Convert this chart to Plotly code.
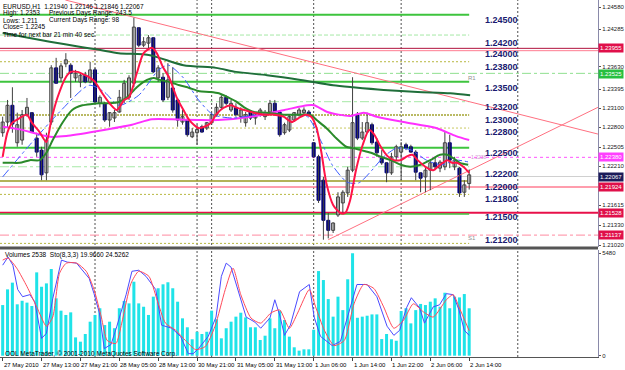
import plotly.graph_objects as go

# ---------------- data ----------------
tick_labels = ["27 May 2010", "27 May 13:00", "27 May 21:00", "28 May 05:00", "28 May 13:00",
               "30 May 21:00", "31 May 05:00", "31 May 13:00", "1 Jun 06:00", "1 Jun 14:00",
               "1 Jun 22:00", "2 Jun 06:00", "2 Jun 14:00"]
tick_bars = [0, 8, 16, 24, 32, 40, 48, 56, 64, 72, 80, 88, 96]
day_sep_bars = [19, 40, 43, 64, 82, 106]

opens = [1.2270, 1.2286, 1.2311, 1.2255, 1.2259, 1.2297, 1.2300, 1.2262, 1.2244, 1.2210,
         1.2286, 1.2367, 1.2352, 1.2373, 1.2371, 1.2352, 1.2346, 1.2356, 1.2346, 1.2364,
         1.2314, 1.2314, 1.2289, 1.2292, 1.2301, 1.2319, 1.2323, 1.2344, 1.2427, 1.2401,
         1.2404, 1.2412, 1.2352, 1.2353, 1.2323, 1.2337, 1.2319, 1.2286, 1.2289, 1.2264,
         1.2270, 1.2279, 1.2277, 1.2285, 1.2297, 1.2308, 1.2323, 1.2304, 1.2308, 1.2294,
         1.2285, 1.2301, 1.2292, 1.2297, 1.2294, 1.2301, 1.2314, 1.2301, 1.2270, 1.2274,
         1.2289, 1.2297, 1.2300, 1.2301, 1.2255, 1.2234, 1.2199, 1.2139, 1.2124, 1.2147,
         1.2165, 1.2180, 1.2214, 1.2297, 1.2262, 1.2271, 1.2282, 1.2256, 1.2232, 1.2225,
         1.2210, 1.2234, 1.2241, 1.2252, 1.2249, 1.2241, 1.2210, 1.2204, 1.2214, 1.2225,
         1.2217, 1.2219, 1.2255, 1.2219, 1.2217, 1.2181, 1.2194]
highs = [1.2294, 1.2319, 1.2338, 1.2300, 1.2304, 1.2322, 1.2301, 1.2270, 1.2249, 1.2270,
         1.2371, 1.2382, 1.2374, 1.2389, 1.2374, 1.2364, 1.2359, 1.2361, 1.2376, 1.2367,
         1.2326, 1.2316, 1.2301, 1.2304, 1.2334, 1.2349, 1.2356, 1.2442, 1.2428, 1.2413,
         1.2416, 1.2413, 1.2371, 1.2359, 1.2374, 1.2368, 1.2322, 1.2304, 1.2294, 1.2277,
         1.2282, 1.2282, 1.2286, 1.2300, 1.2314, 1.2326, 1.2326, 1.2319, 1.2314, 1.2308,
         1.2301, 1.2304, 1.2301, 1.2307, 1.2304, 1.2319, 1.2319, 1.2304, 1.2285, 1.2297,
         1.2301, 1.2307, 1.2308, 1.2304, 1.2256, 1.2237, 1.2204, 1.2150, 1.2136, 1.2181,
         1.2184, 1.2219, 1.2353, 1.2301, 1.2286, 1.2300, 1.2285, 1.2262, 1.2244, 1.2226,
         1.2240, 1.2252, 1.2256, 1.2255, 1.2252, 1.2244, 1.2211, 1.2219, 1.2229, 1.2234,
         1.2229, 1.2271, 1.2267, 1.2234, 1.2219, 1.2199, 1.2215]
lows = [1.2264, 1.2277, 1.2270, 1.2249, 1.2252, 1.2294, 1.2270, 1.2234, 1.2199, 1.2199,
        1.2282, 1.2344, 1.2346, 1.2368, 1.2322, 1.2346, 1.2338, 1.2344, 1.2344, 1.2314,
        1.2308, 1.2286, 1.2279, 1.2286, 1.2300, 1.2314, 1.2319, 1.2338, 1.2398, 1.2398,
        1.2394, 1.2359, 1.2346, 1.2316, 1.2319, 1.2300, 1.2279, 1.2282, 1.2264, 1.2262,
        1.2252, 1.2270, 1.2274, 1.2282, 1.2294, 1.2304, 1.2311, 1.2301, 1.2294, 1.2285,
        1.2279, 1.2289, 1.2282, 1.2294, 1.2289, 1.2297, 1.2300, 1.2264, 1.2267, 1.2271,
        1.2286, 1.2294, 1.2297, 1.2294, 1.2232, 1.2165, 1.2110, 1.2112, 1.2120, 1.2144,
        1.2150, 1.2174, 1.2211, 1.2259, 1.2259, 1.2270, 1.2252, 1.2234, 1.2222, 1.2196,
        1.2207, 1.2229, 1.2199, 1.2244, 1.2240, 1.2199, 1.2181, 1.2181, 1.2184, 1.2214,
        1.2211, 1.2214, 1.2217, 1.2214, 1.2174, 1.2174, 1.2185]
closes = [1.2286, 1.2311, 1.2283, 1.2282, 1.2297, 1.2308, 1.2271, 1.2241, 1.2207, 1.2259,
          1.2367, 1.2344, 1.2370, 1.2379, 1.2359, 1.2359, 1.2356, 1.2346, 1.2364, 1.2316,
          1.2323, 1.2289, 1.2300, 1.2300, 1.2323, 1.2344, 1.2352, 1.2428, 1.2401, 1.2406,
          1.2412, 1.2361, 1.2367, 1.2319, 1.2349, 1.2304, 1.2289, 1.2294, 1.2267, 1.2271,
          1.2275, 1.2271, 1.2285, 1.2297, 1.2308, 1.2323, 1.2314, 1.2314, 1.2297, 1.2304,
          1.2297, 1.2292, 1.2300, 1.2304, 1.2300, 1.2314, 1.2301, 1.2267, 1.2282, 1.2294,
          1.2300, 1.2304, 1.2304, 1.2297, 1.2234, 1.2169, 1.2139, 1.2124, 1.2135, 1.2174,
          1.2181, 1.2214, 1.2285, 1.2262, 1.2271, 1.2285, 1.2255, 1.2240, 1.2225, 1.2210,
          1.2234, 1.2249, 1.2249, 1.2247, 1.2241, 1.2211, 1.2202, 1.2214, 1.2225, 1.2219,
          1.2226, 1.2255, 1.2229, 1.2229, 1.2180, 1.2192, 1.2207]

volumes = [2710, 3550, 3910, 2750, 2940, 2840, 2660, 4460, 3690, 3870,
           4640, 3070, 2410, 2180, 2320, 980, 750, 1160, 1820, 2180,
           2540, 1640, 1820, 1470, 2540, 2930, 2800, 3960, 2800, 2620,
           2180, 3160, 3610, 3820, 3930, 3610, 2890, 2000, 1520, 880,
           1280, 1160, 1280, 2410, 1950, 930, 1470, 1820, 2090, 2300,
           2050, 1520, 1520, 840, 1070, 2000, 1470, 2410, 1910, 1020,
           450, 270, 340, 340, 1390, 4530, 4050, 3030, 2090, 3160,
           2440, 4090, 5480, 2030, 2090, 2140, 2210, 2210, 890, 1160,
           880, 800, 2390, 2540, 1730, 2440, 2770, 2710, 2890, 3070,
           2620, 3370, 2540, 3160, 3120, 3300, 2538]

# moving averages (bar index, price)
ma_red_x = [0, 1, 2, 3.5, 5, 6, 7.6, 9, 10, 11.3, 13, 14, 15.4, 17, 18, 19, 20.5, 22, 23.5, 25,
            26, 27.6, 29, 30.7, 31.7, 33, 34.3, 35.8, 37.2, 38.4, 40.3, 41.5, 42.9, 43.9, 45.4,
            47, 48, 49.7, 51.7, 53.7, 55.8, 57.8, 59.5, 60.9, 62.3, 63.5, 64.6, 65.6, 66.6, 68,
            69.5, 70.5, 71.5, 72.7, 74.1, 75.4, 76.4, 77.8, 79.2, 80.5, 81.9, 83.3, 84.3, 85.4,
            87, 88.6, 90, 91.5, 92.5, 93.5, 94.8, 96]
ma_red_y = [1.2234, 1.2271, 1.2285, 1.2292, 1.2297, 1.2285, 1.2271, 1.2256, 1.2289, 1.2323,
            1.2353, 1.2361, 1.2361, 1.2356, 1.2352, 1.2346, 1.2329, 1.2314, 1.2304, 1.2319,
            1.2323, 1.2359, 1.2389, 1.2397, 1.2389, 1.2368, 1.2352, 1.2323, 1.2304, 1.2289,
            1.2277, 1.2279, 1.2285, 1.2297, 1.2307, 1.2311, 1.2308, 1.2304, 1.2300, 1.2297,
            1.2297, 1.2294, 1.2286, 1.2292, 1.2297, 1.2294, 1.2277, 1.2240, 1.2195, 1.2162,
            1.2150, 1.2150, 1.2169, 1.2214, 1.2252, 1.2274, 1.2268, 1.2249, 1.2235, 1.2229,
            1.2229, 1.2235, 1.2237, 1.2229, 1.2219, 1.2214, 1.2222, 1.2229, 1.2225, 1.2225,
            1.2219, 1.2210]

ma_green_x = [0, 1.5, 3.5, 5.6, 7.6, 9, 10.3, 12.3, 14.3, 16.4, 18.4, 19.9, 21.9, 23.9, 25.6,
              27.6, 29.7, 31.1, 32.3, 34.3, 36.4, 38.4, 40.5, 42.5, 44.5, 46.6, 48, 49.7, 51.7,
              54.3, 57.8, 61.3, 63.3, 64.6, 66.6, 68.6, 70.7, 72.1, 73.7, 75.8, 77.8, 79.9,
              81.9, 83.9, 86, 88, 90, 91.5, 92.7, 94.1, 95.8]
ma_green_y = [1.2225, 1.2225, 1.2225, 1.2229, 1.2229, 1.2240, 1.2259, 1.2285, 1.2304, 1.2311,
              1.2313, 1.2314, 1.2314, 1.2316, 1.2323, 1.2338, 1.2349, 1.2352, 1.2349, 1.2346,
              1.2341, 1.2337, 1.2332, 1.2331, 1.2329, 1.2322, 1.2317, 1.2308, 1.2301, 1.2300,
              1.2297, 1.2297, 1.2297, 1.2289, 1.2277, 1.2262, 1.2249, 1.2247, 1.2244, 1.2240,
              1.2234, 1.2229, 1.2222, 1.2219, 1.2222, 1.2229, 1.2237, 1.2237, 1.2232, 1.2225,
              1.2222]

ma_magenta_x = [0, 3.5, 9.7, 13.1, 19.9, 26.6, 30.7, 34.8, 40.3, 44.3, 51.1, 58, 62.7, 64.1,
                66.8, 71.5, 74.3, 77, 82.5, 89.2, 93.3, 96]
ma_magenta_y = [1.2279, 1.2275, 1.2264, 1.2265, 1.2273, 1.2282, 1.2290, 1.2290, 1.2289, 1.2289,
                1.2294, 1.2304, 1.2311, 1.2311, 1.2301, 1.2295, 1.2300, 1.2294, 1.2286, 1.2277,
                1.2265, 1.2259]

ma_slow_x = [0, 9.7, 16.4, 19.9, 23.9, 30.3, 37.2, 43.9, 48, 54.4, 61.3, 68, 72.1, 78.4, 85.4,
             92.1, 96.2]
ma_slow_y = [1.2419, 1.2406, 1.2398, 1.2394, 1.2389, 1.2386, 1.2371, 1.2367, 1.2361, 1.2356,
             1.2349, 1.2341, 1.2338, 1.2334, 1.2331, 1.2329, 1.2326]

ma_blue_x = [0, 5.6, 11.7, 17.8, 20.9, 23.9, 28, 32.1, 34.1, 37.2, 40.3, 43.3, 47.4, 52.5, 58.6,
             62.7, 65.4, 67.8, 70.9, 73.3, 76, 78.4, 81.1, 84.1, 87.2, 90.3, 93.3, 96]
ma_blue_y = [1.2204, 1.2252, 1.2301, 1.2341, 1.2331, 1.2311, 1.2326, 1.2364, 1.2371, 1.2352,
             1.2319, 1.2297, 1.2292, 1.2297, 1.2297, 1.2294, 1.2259, 1.2222, 1.2196, 1.2195,
             1.2214, 1.2234, 1.2247, 1.2244, 1.2229, 1.2222, 1.2229, 1.2226]

# trend lines (bar index, price)
trend_down_x = [12.9, 122.5]
trend_down_y = [1.24685, 1.2268]
trend_up_x = [67.0, 122.5]
trend_up_y = [1.2110, 1.2308]

# stochastic (8,3,3)
sto_k_x = [0, 1.1, 2.1, 3.1, 4.1, 5.6, 6.6, 8, 9, 10.3, 12.1, 13.3, 15.2, 17.8, 18.8, 19.9, 20.9,
           22.3, 23.5, 25.4, 26.6, 28, 29.5, 31.5, 32.7, 34.8, 36.6, 38.2, 39.2, 40.3, 42.3, 43.9,
           45, 46, 47, 48.4, 50.1, 51.9, 53.1, 55, 56, 57, 58, 59.2, 61.1, 63.1, 64.1, 65.4,
           67.8, 69.5, 71.5, 72.9, 75, 77, 79.1, 80.5, 81.7, 83.1, 84.1, 85.8, 86.8, 88.6, 89.9,
           91.3, 92.7, 93.9, 95, 96]
sto_k = [89, 97, 89, 65, 58, 60, 53, 17, 22, 56, 94, 92, 91, 76, 61, 42, 7, 11, 29, 60,
         83, 84, 78, 65, 30, 27, 19, 2, 2, 7, 19, 38, 78, 91, 87, 65, 38, 33, 27, 37,
         55, 40, 20, 30, 63, 70, 38, 19, 10, 14, 48, 70, 70, 58, 29, 20, 25, 47, 57, 47,
         32, 48, 50, 61, 60, 45, 25, 19.966]
sto_d_x = [0, 1.1, 2.9, 5, 7, 9, 10.3, 11.7, 13.1, 15.2, 17.2, 18.8, 20.3, 21.5, 23.3, 24.5, 26.4,
           28, 30.1, 31.7, 33.5, 35.6, 37.6, 39.7, 41.7, 43.7, 45.8, 47.4, 49, 51.1, 53.1, 55.2,
           57, 59, 60.7, 63.1, 64.4, 66.2, 68.2, 70.3, 72.3, 74.3, 76.4, 78.4, 80.5, 82.5, 84.5,
           86.6, 88.6, 91.3, 92.7, 93.9, 96]
sto_d = [94, 96, 86, 68, 48, 29, 38, 81, 91, 91, 83, 65, 38, 15, 12, 32, 71, 83, 78, 56,
         32, 25, 15, 6, 9, 29, 65, 86, 60, 37, 32, 42, 45, 27, 42, 65, 48, 25, 10, 15,
         51, 70, 66, 48, 27, 35, 51, 43, 38, 55, 60, 48, 24.526]

# horizontal levels
level_prices = [1.24465, 1.24161, 1.23962, 1.23927, 1.23762, 1.23588, 1.23463, 1.23164,
                1.22965, 1.22770, 1.22475, 1.22332, 1.22191, 1.22045, 1.21977, 1.21888,
                1.21778, 1.21503, 1.21484, 1.21169, 1.21045]
# pivot labels
pivot_texts = ["1.24500", "1.24200", "1.24000", "1.23800", "1.23500", "1.23200", "1.23000",
               "1.22800", "1.22500", "1.22200", "1.22000", "1.21800", "1.21500", "1.21200"]
pivot_pos = [1.2439, 1.2404, 1.2388, 1.2368, 1.2337, 1.2308, 1.2289, 1.2271, 1.2240, 1.2208,
             1.2189, 1.2171, 1.2144, 1.2109]

# right price scale labels (text) and where they sit on the scale
axis_tick_text = ["1.24580", "1.24285", "1.23630", "1.23395", "1.23100", "1.22800", "1.22505",
                  "1.22210", "1.21615", "1.21330", "1.21020"]
axis_tick_pos = [1.24580, 1.24251, 1.23690, 1.23354, 1.23069, 1.22785, 1.22486, 1.22202,
                 1.21618, 1.21319, 1.21020]
box_texts = ["1.23955", "1.23525", "1.22380", "1.22067", "1.21924", "1.21528", "1.21137"]
box_prices = [1.23962, 1.23580, 1.22332, 1.22045, 1.21888, 1.21503, 1.21169]

# ---------------- styles ----------------
FONT = "Liberation Sans"
X_RANGE = [-0.551, 122.51]
LAST = 96
H = 357.0


def py(p):
    return 1 - p / H


def px(p):
    return p / 603.0


level_styles = [
    ("#3ec43e", "solid", 2, False), ("#a6e8a6", "4px,2px", 1, False),
    ("#b0103c", "solid", 1, True), ("#ff7d92", "solid", 1, True),
    ("#b8b840", "2px,2px", 1, False), ("#8fe08f", "dashdot", 1, True),
    ("#3ec43e", "solid", 2, False), ("#a6e8a6", "dashdot", 1, False),
    ("#a4a432", "2px,1px", 1.5, False), ("#c8c860", "2px,2px", 1, False),
    ("#3ec43e", "solid", 2, False), ("#ff55ff", "3px,3px", 1, True),
    ("#a6e8a6", "dashdot", 1, False), ("#d0d0d0", "solid", 1, True),
    ("#9a9a22", "solid", 1.5, False), ("#ff7d92", "solid", 1.5, True),
    ("#b8b840", "2px,2px", 1, False), ("#e8104a", "solid", 2, True),
    ("#3ec43e", "solid", 1.5, False), ("#ff8aa0", "dashdot", 1, True),
    ("#b8b840", "2px,2px", 1, False),
]
box_colors = ["#e0104a", "#28c040", "#ff40ff", "#1c1c5a", "#e0104a", "#e0104a", "#e0104a"]

fig = go.Figure()

shapes = []
for p, (c, d, w, full) in zip(level_prices, level_styles):
    shapes.append(dict(type="line", xref="x", yref="y", x0=X_RANGE[0], x1=(X_RANGE[1] if full else LAST),
                       y0=p, y1=p, line=dict(color=c, dash=d, width=w), layer="below"))
for b in day_sep_bars:
    shapes.append(dict(type="line", xref="x", yref="paper", x0=b, x1=b, y0=0, y1=1,
                       line=dict(color="#505050", dash="2px,2px", width=1), layer="below"))
shapes.append(dict(type="rect", xref="paper", yref="paper", x0=0, x1=1, y0=py(249.5), y1=py(246.6),
                   fillcolor="#555555", line=dict(width=0), layer="above"))

# trend lines
fig.add_trace(go.Scatter(x=trend_down_x, y=trend_down_y, mode="lines",
                         line=dict(color="#ff7080", width=1), xaxis="x", yaxis="y", hoverinfo="skip"))
fig.add_trace(go.Scatter(x=trend_up_x, y=trend_up_y, mode="lines",
                         line=dict(color="#ff7080", width=1), xaxis="x", yaxis="y", hoverinfo="skip"))

# candles
n = len(opens)
wx, wy = [], []
for i in range(n):
    wx += [i, i, None]
    wy += [lows[i], highs[i], None]
fig.add_trace(go.Scatter(x=wx, y=wy, mode="lines", line=dict(color="#404040", width=1),
                         xaxis="x", yaxis="y", hoverinfo="skip"))
bull = [i for i in range(n) if closes[i] >= opens[i]]
bear = [i for i in range(n) if closes[i] < opens[i]]
MINH = 0.00005
fig.add_trace(go.Bar(x=bull, base=[opens[i] for i in bull],
                     y=[max(closes[i] - opens[i], MINH) for i in bull], width=0.62,
                     marker=dict(color="white", line=dict(color="#404040", width=1)),
                     xaxis="x", yaxis="y", hoverinfo="skip"))
fig.add_trace(go.Bar(x=bear, base=[closes[i] for i in bear],
                     y=[max(opens[i] - closes[i], MINH) for i in bear], width=0.62,
                     marker=dict(color="#00007a", line=dict(color="#00007a", width=1)),
                     xaxis="x", yaxis="y", hoverinfo="skip"))


def ma(xs, ys, color, width, dash="solid"):
    fig.add_trace(go.Scatter(x=xs, y=ys, mode="lines", xaxis="x", yaxis="y", hoverinfo="skip",
                             line=dict(color=color, width=width, dash=dash, shape="spline", smoothing=0.7)))


ma(ma_slow_x, ma_slow_y, "#1f6e3a", 2)
ma(ma_magenta_x, ma_magenta_y, "#ff30ff", 2)
ma(ma_blue_x, ma_blue_y, "#3a5cff", 1, "dashdot")
ma(ma_green_x, ma_green_y, "#2a8a2a", 2)
ma(ma_red_x, ma_red_y, "#ff1448", 2)

# volumes
fig.add_trace(go.Bar(x=list(range(len(volumes))), y=volumes, width=0.62,
                     marker=dict(color="#1fe3e8", line=dict(width=0)),
                     xaxis="x2", yaxis="y2", hoverinfo="skip"))
# stochastic
fig.add_trace(go.Scatter(x=sto_k_x, y=sto_k, mode="lines", line=dict(color="#4a4aff", width=1),
                         xaxis="x2", yaxis="y3", hoverinfo="skip"))
fig.add_trace(go.Scatter(x=sto_d_x, y=sto_d, mode="lines",
                         line=dict(color="#ff4a5a", width=1, shape="spline", smoothing=0.6),
                         xaxis="x2", yaxis="y3", hoverinfo="skip"))

ann = []
small = dict(family=FONT, size=6.5, color="#000000")
hdr = [("EURUSD,H1  1.21940 1.22146 1.21846 1.22067", 1, 6),
       ("High: 1.2353", 1, 13), ("Previous Days Range: 243.5", 47, 13),
       ("Lows: 1.211", 1, 20), ("Current Days Range: 98", 47, 20),
       ("Close= 1.2245", 1, 27), ("Time for next bar 21 min 40 sec", 1, 34)]
for t, x, y in hdr:
    ann.append(dict(text=t, xref="paper", yref="paper", x=px(x), y=py(y), xanchor="left", yanchor="middle",
                    showarrow=False, font=small))
ann.append(dict(text="Volumes 2538  Sto(8,3,3) 19.9660 24.5262", xref="paper", yref="paper", x=px(3),
                y=py(254.5), xanchor="left", yanchor="middle", showarrow=False, font=small))
ann.append(dict(text="OOL MetaTrader, © 2001-2010 MetaQuotes Software Corp.", xref="paper", yref="paper",
                x=px(3), y=py(353.5), xanchor="left", yanchor="middle", showarrow=False, font=small))
for t, p in zip(pivot_texts, pivot_pos):
    ann.append(dict(text="<b>%s</b>" % t, xref="x", yref="y", x=102.6, y=p, xanchor="center",
                    yanchor="middle", showarrow=False, font=dict(family=FONT, size=9, color="#1a1a70")))
ann.append(dict(text="R1", xref="x", yref="y", x=95.4, y=1.2352, xanchor="left", yanchor="middle",
                showarrow=False, font=dict(family=FONT, size=6, color="#909090")))
ann.append(dict(text="S1", xref="x", yref="y", x=95.4, y=1.2112, xanchor="left", yanchor="middle",
                showarrow=False, font=dict(family=FONT, size=6, color="#909090")))
ann.append(dict(text="1.2238", xref="x", yref="y", x=95.9, y=1.2234, xanchor="left", yanchor="middle",
                showarrow=False, font=dict(family=FONT, size=5, color="#d090d0")))
for t, p, c in zip(box_texts, box_prices, box_colors):
    ann.append(dict(text=t, xref="paper", yref="y", x=1.0, y=p, xanchor="left", yanchor="middle",
                    showarrow=False, bgcolor=c, borderpad=1, font=dict(family=FONT, size=6, color="white")))
for b, t in zip(tick_bars, tick_labels):
    ann.append(dict(text=t, xref="x2", yref="paper", x=b, y=py(365), xanchor="left", yanchor="middle",
                    xshift=-1, showarrow=False, font=dict(family=FONT, size=6, color="#000000")))

axfont = dict(family=FONT, size=6, color="#202020")
fig.update_layout(
    width=625, height=370, margin=dict(l=0, r=22, t=0, b=13),
    paper_bgcolor="white", plot_bgcolor="white", showlegend=False, barmode="overlay",
    shapes=shapes, annotations=ann,
    xaxis=dict(domain=[0, 1], range=X_RANGE, anchor="y", showticklabels=False, showgrid=False,
               zeroline=False, ticks=""),
    yaxis=dict(domain=[py(246.6), 1], range=[1.20997, 1.24685], side="right", anchor="x",
               tickvals=axis_tick_pos, ticktext=axis_tick_text, tickfont=axfont,
               ticks="outside", ticklen=2, tickcolor="#555", showgrid=False, zeroline=False,
               showline=True, linecolor="#8a8aaa", linewidth=1),
    xaxis2=dict(domain=[0, 1], range=X_RANGE, anchor="y2", tickvals=tick_bars, showticklabels=False,
                ticks="outside", ticklen=3, tickcolor="#444", showline=True, linecolor="#555",
                showgrid=False, zeroline=False),
    yaxis2=dict(domain=[0, py(249.5)], range=[-70, 5684], side="right", anchor="x2",
                tickvals=[0, 5480], ticktext=["0", "5480"], tickfont=axfont, ticks="outside", ticklen=2,
                tickcolor="#555", showgrid=False, zeroline=False, showline=True, linecolor="#8a8aaa"),
    yaxis3=dict(overlaying="y2", anchor="x2", side="right", range=[-1.28, 104.4], visible=False),
)

fig.write_html("out.html")
